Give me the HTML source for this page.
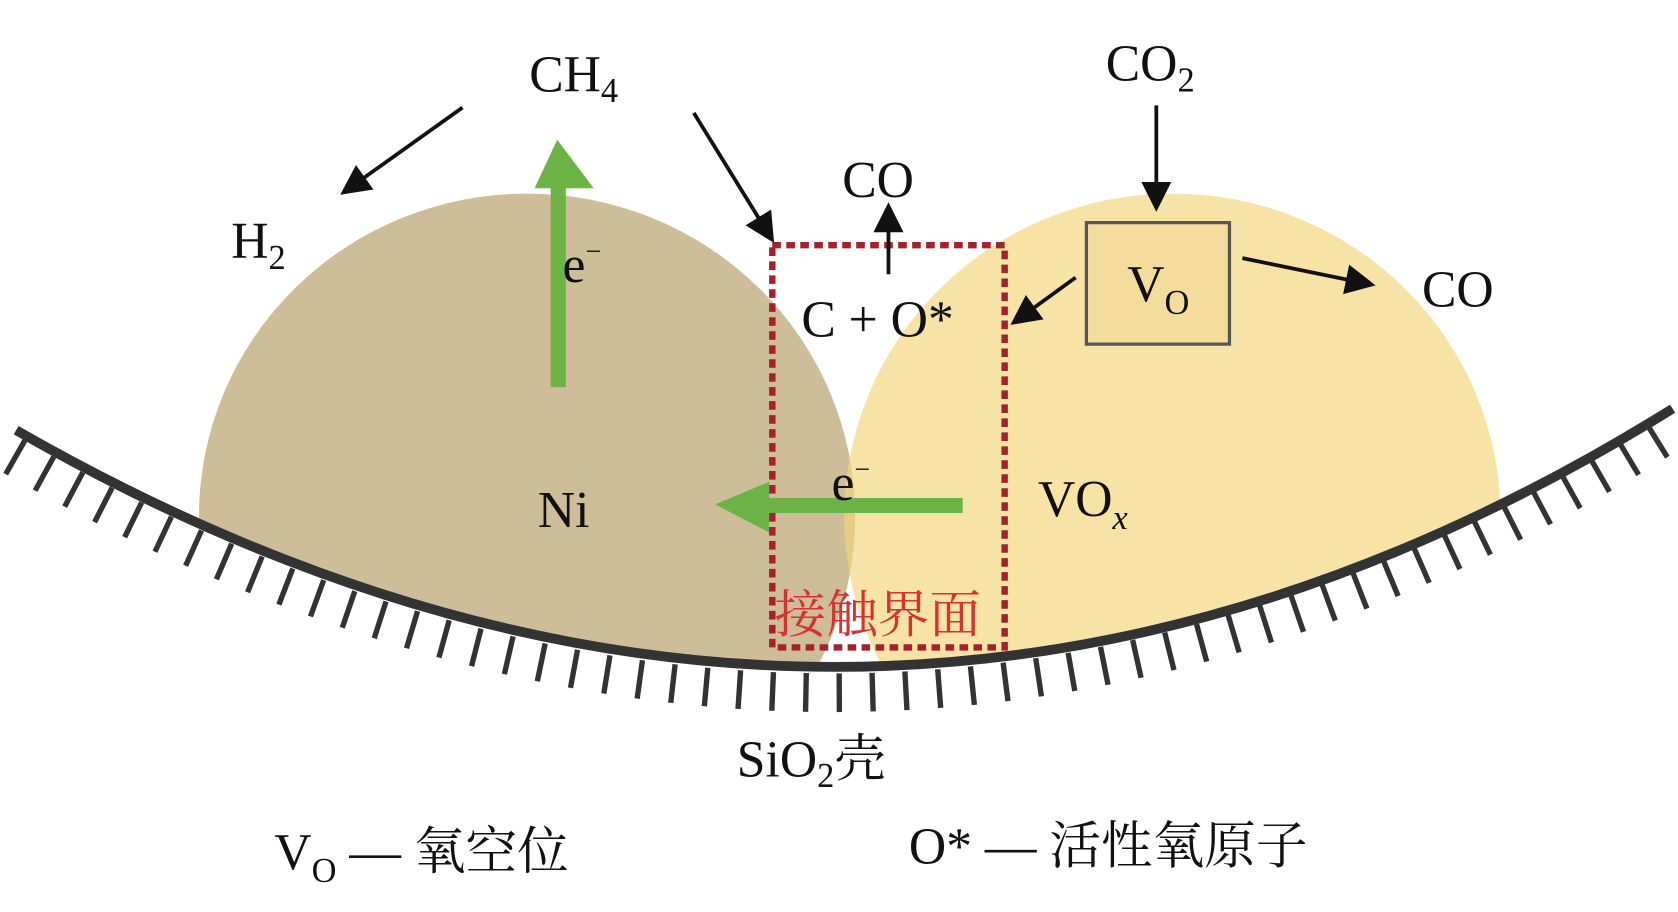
<!DOCTYPE html>
<html><head><meta charset="utf-8"><style>
html,body{margin:0;padding:0;background:#fff;}
svg{display:block;}
text{font-family:"Liberation Serif","Noto Serif CJK SC",serif;fill:#111;}
</style></head><body>
<svg width="1678" height="912" viewBox="0 0 1560 848" preserveAspectRatio="none" xmlns="http://www.w3.org/2000/svg">
<defs>
<clipPath id="above"><path d="M0,0 L1560,0 L1560,375 L1555,380 Q800,850 15,400 L0,395 Z"/></clipPath>
<clipPath id="vox"><ellipse cx="1090" cy="480" rx="305" ry="300"/></clipPath>
<marker id="ah" markerWidth="8" markerHeight="8" refX="6" refY="4" orient="auto" markerUnits="strokeWidth"><path d="M0,0 L8,4 L0,8 Z" fill="#111"/></marker>
</defs>
<g clip-path="url(#above)">
<ellipse cx="490" cy="480" rx="305" ry="300" fill="#cdbd98"/>
<ellipse cx="1090" cy="480" rx="305" ry="300" fill="#f7e3a5"/>
<ellipse cx="490" cy="480" rx="305" ry="300" fill="#e6cd86" clip-path="url(#vox)"/>
</g>
<path d="M12,424 Q800,874 1550,404" fill="none" stroke="#333" stroke-width="36" stroke-dasharray="5,26"/>
<path d="M15,400 Q800,850 1555,380" fill="none" stroke="#333" stroke-width="9"/>
<rect x="718" y="228" width="216" height="374" fill="none" stroke="#a5212c" stroke-width="6" stroke-dasharray="8,5"/>
<path d="M512,360 L512,175 L497,175 L518,130 L552,175 L526,175 L526,360 Z" fill="#6bb345"/>
<path d="M895,463 L715,463 L715,448 L665,469 L715,495 L715,477 L895,477 Z" fill="#6bb345"/>
<g stroke="#111" stroke-width="3.5" fill="none" marker-end="url(#ah)">
<line x1="430" y1="100" x2="322" y2="177"/>
<line x1="645" y1="105" x2="716" y2="220"/>
<line x1="1075" y1="98" x2="1075" y2="190"/>
<line x1="1155" y1="240" x2="1272" y2="264"/>
<line x1="1000" y1="258" x2="945" y2="298"/>
<line x1="826" y1="255" x2="826" y2="195"/>
</g>
<rect x="1010" y="207" width="133" height="113" fill="#f3dc9c" stroke="#555" stroke-width="3"/>
<g font-size="48">
<text x="492" y="85">CH<tspan font-size="32" dy="10">4</tspan></text>
<text x="1028" y="75">CO<tspan font-size="32" dy="10">2</tspan></text>
<text x="215" y="240">H<tspan font-size="32" dy="10">2</tspan></text>
<text x="783" y="183">CO</text>
<text x="1322" y="285">CO</text>
<text x="523" y="262">e<tspan font-size="26" dy="-20">−</tspan></text>
<text x="773" y="465">e<tspan font-size="26" dy="-20">−</tspan></text>
<text x="745" y="313">C + O*</text>
<text x="1048" y="280">V<tspan font-size="32" dy="12">O</tspan></text>
<text x="500" y="490">Ni</text>
<text x="965" y="480">VO<tspan font-size="32" dy="12" font-style="italic">x</tspan></text>
<text x="720" y="588" style="fill:#d93030">接触界面</text>
<text x="685" y="722">SiO<tspan font-size="32" dy="10">2</tspan><tspan dy="-10">壳</tspan></text>
<text x="255" y="808">V<tspan font-size="32" dy="12">O</tspan><tspan dy="-12"> — 氧空位</tspan></text>
<text x="845" y="803">O* — 活性氧原子</text>
</g>
</svg>
</body></html>
